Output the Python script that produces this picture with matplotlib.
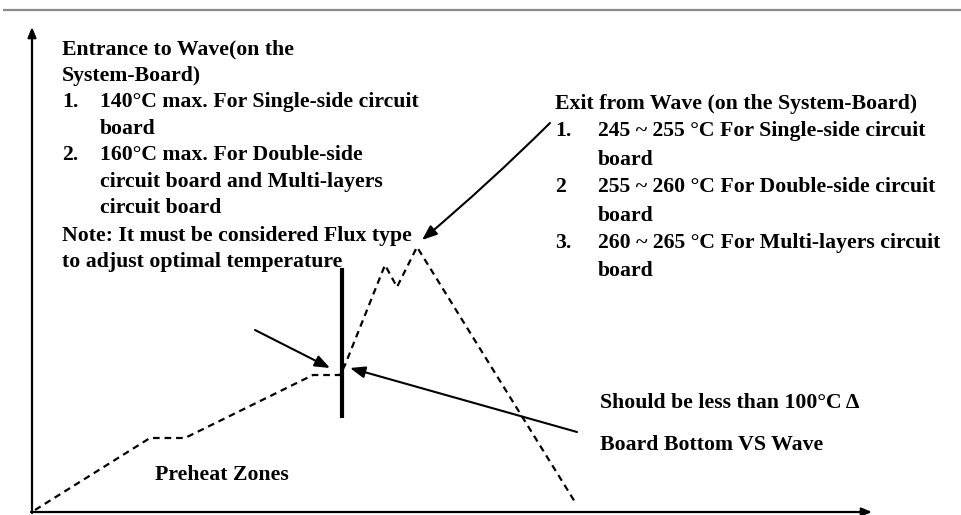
import matplotlib.pyplot as plt

plt.rcParams['font.family'] = ['Liberation Serif', 'DejaVu Serif']

# wave soldering profile (arbitrary time / temperature units, origin at axes corner)
profile_time = [3, 118, 153, 281, 308, 313, 353, 365, 385, 543]
profile_temp = [2, 74, 74, 137, 137, 147, 247, 225, 265, 10]

# solid marker bar at the entrance to the wave
bar_time = 310
bar_temp = (94, 244)

entrance_lines = [
    ("", "Entrance to Wave(on the"),
    ("", "System-Board)"),
    ("1.", "140\u00b0C max. For Single-side circuit"),
    ("", "board"),
    ("2.", "160\u00b0C max. For Double-side"),
    ("", "circuit board and Multi-layers"),
    ("", "circuit board"),
]
note_lines = ["Note: It must be considered Flux type", "to adjust optimal temperature"]
exit_lines = [
    ("", "Exit from Wave (on the System-Board)"),
    ("1.", "245 ~ 255 \u00b0C For Single-side circuit"),
    ("", "board"),
    ("2", "255 ~ 260 \u00b0C For Double-side circuit"),
    ("", "board"),
    ("3.", "260 ~ 265 \u00b0C For Multi-layers circuit"),
    ("", "board"),
]

fig = plt.figure(figsize=(9.62, 5.15), dpi=100)
ax = fig.add_axes([0, 0, 1, 1])
ax.set_xlim(-32, 930)
ax.set_ylim(-3, 512)
ax.axis('off')

# top rule
ax.plot([-29, 930], [502, 502], color='#8a8a8a', lw=1.6, solid_capstyle='butt')

# axes arrows
arrow_kw = dict(arrowstyle='-|>,head_length=0.6,head_width=0.25', color='black', lw=1.6,
                shrinkA=0, shrinkB=0)
ax.annotate('', xy=(0, 485), xytext=(0, -1), arrowprops=arrow_kw)
ax.annotate('', xy=(840, 0), xytext=(-1, 0), arrowprops=arrow_kw)

# profile
ax.plot(profile_time, profile_temp, color='black', lw=1.6, ls=(0, (3, 2.2)))
ax.plot([bar_time, bar_time], bar_temp, color='black', lw=3, solid_capstyle='butt')

# pointer arrows
ptr_kw = dict(arrowstyle='-|>,head_length=0.9,head_width=0.35', color='black', lw=1.5,
              shrinkA=0, shrinkB=0)
ax.annotate('', xy=(298, 144), xytext=(223, 182), arrowprops=ptr_kw)
ax.annotate('', xy=(318, 144), xytext=(545, 80), arrowprops=ptr_kw)
ax.annotate('', xy=(390, 272), xytext=(518, 389),
            arrowprops=dict(ptr_kw, connectionstyle='arc3,rad=-0.02'))

fs = 15.7
fw = 'bold'
# entrance block
y = 463
for num, txt in entrance_lines:
    if num:
        ax.text(30, y, num, fontsize=fs, fontweight=fw, va='center')
        ax.text(68, y, txt, fontsize=fs, fontweight=fw, va='center')
    elif txt.startswith(('Entrance', 'System')):
        ax.text(30, y, txt, fontsize=fs, fontweight=fw, va='center')
    else:
        ax.text(68, y, txt, fontsize=fs, fontweight=fw, va='center')
    y -= 26.5
ax.text(30, 276, note_lines[0], fontsize=fs, fontweight=fw, va='center')
ax.text(30, 250, note_lines[1], fontsize=fs, fontweight=fw, va='center')

# exit block
exit_y = [408, 381, 352, 325, 296, 269, 241]
for (num, txt), yy in zip(exit_lines, exit_y):
    if num:
        ax.text(523, yy, num, fontsize=fs, fontweight=fw, va='center')
        ax.text(566, yy, txt, fontsize=fs, fontweight=fw, va='center')
    elif txt.startswith('Exit'):
        ax.text(523, yy, txt, fontsize=fs, fontweight=fw, va='center')
    else:
        ax.text(566, yy, txt, fontsize=fs, fontweight=fw, va='center')

ax.text(568, 109, "Should be less than 100\u00b0C \u0394", fontsize=fs, fontweight=fw, va='center')
ax.text(568, 67, "Board Bottom VS Wave", fontsize=fs, fontweight=fw, va='center')
ax.text(123, 37, "Preheat Zones", fontsize=fs, fontweight=fw, va='center')

fig.savefig('out.png', dpi=100)
